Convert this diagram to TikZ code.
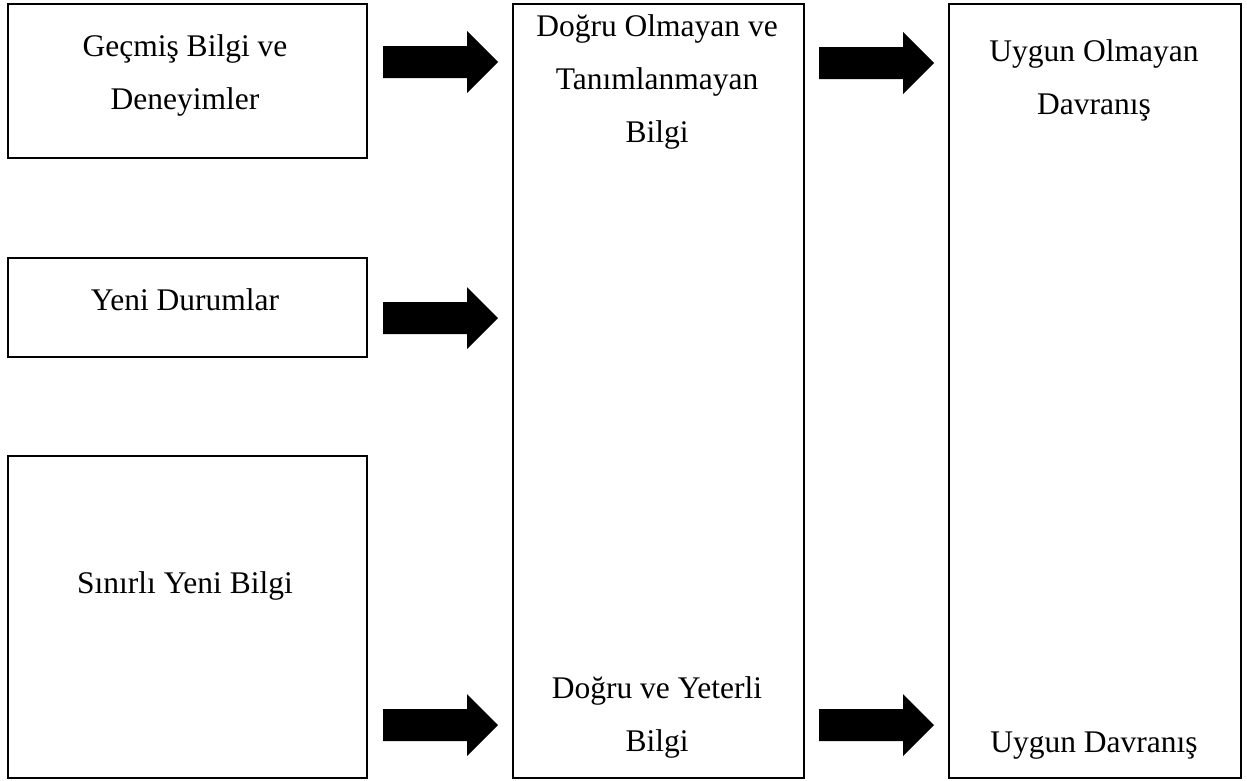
\documentclass[tikz,border=0pt]{standalone}
\usepackage{fontspec}
\setmainfont{Liberation Serif}
\begin{document}
\begin{tikzpicture}[x=1pt,y=-1pt,
  box/.style={draw=black, line width=2pt, fill=white, inner sep=0pt, anchor=north west},
  txt/.style={inner sep=0pt, anchor=base, font=\fontsize{31.5}{53}\selectfont},
  blockarrow/.pic={\fill[black] (0,-16) -- (84,-16) -- (84,-31) -- (115,0) -- (84,31) -- (84,16) -- (0,16) -- cycle;}]
\useasboundingbox[fill=white] (0,0) rectangle (1247,780);

% boxes
\node[box, minimum width=359pt, minimum height=154pt] (past) at (7,3) {};
\node[box, minimum width=359pt, minimum height=99pt] (newsit) at (7,257) {};
\node[box, minimum width=359pt, minimum height=322pt] (limited) at (7,455) {};
\node[box, minimum width=291pt, minimum height=774pt] (info) at (512,3) {};
\node[box, minimum width=292pt, minimum height=774pt] (behav) at (948,3) {};

% labels
\node[txt] (pastA) at (185,56) {Geçmiş Bilgi ve};
\node[txt] (pastB) at (185,109) {Deneyimler};
\node[txt] (newsitA) at (185,310) {Yeni Durumlar};
\node[txt] (limitedA) at (185,593) {Sınırlı Yeni Bilgi};
\node[txt] (wrongA) at (657,36) {Doğru Olmayan ve};
\node[txt] (wrongB) at (657,89) {Tanımlanmayan};
\node[txt] (wrongC) at (657,142) {Bilgi};
\node[txt] (rightA) at (657,698) {Doğru ve Yeterli};
\node[txt] (rightB) at (657,751) {Bilgi};
\node[txt] (badA) at (1094,61) {Uygun Olmayan};
\node[txt] (badB) at (1094,114) {Davranış};
\node[txt] (goodA) at (1094,752) {Uygun Davranış};

% block arrows
\coordinate (a1) at (383,62);
\coordinate (a2) at (383,318);
\coordinate (a3) at (383,725);
\coordinate (a4) at (819,63);
\coordinate (a5) at (819,725);
\foreach \c in {a1,a2,a3,a4,a5} \pic at (\c) {blockarrow};
\end{tikzpicture}
\end{document}
